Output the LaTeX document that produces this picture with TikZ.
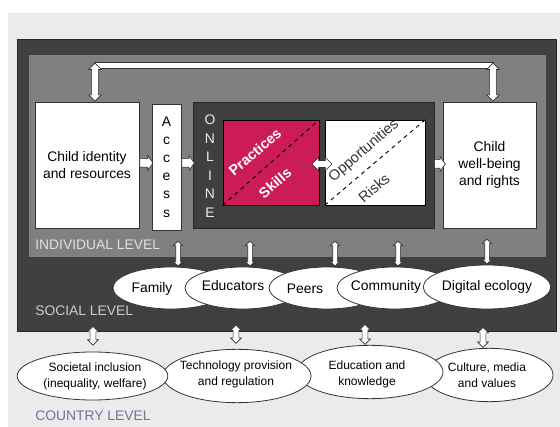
\documentclass[tikz,border=0pt]{standalone}
\usepackage{fontspec}
\setmainfont{Liberation Sans}
\usetikzlibrary{shapes.geometric,shapes.arrows,calc}
\definecolor{pagegrey}{HTML}{EBEBEB}
\definecolor{socialgrey}{HTML}{404040}
\definecolor{indivgrey}{HTML}{808080}
\definecolor{onlinegrey}{HTML}{3F3F3F}
\definecolor{practicered}{RGB}{204,27,89}
\definecolor{countrypurple}{HTML}{7D6B9E}
\definecolor{edgegrey}{HTML}{333333}

\tikzset{
  whitebox/.style={draw=edgegrey, fill=white, line width=0.5pt, align=center},
  socoval/.style={ellipse, draw=edgegrey, fill=white, line width=0.6pt, inner sep=0pt, minimum width=87pt, minimum height=31.5pt},
  ctroval/.style={ellipse, draw=edgegrey, fill=white, line width=0.6pt, inner sep=0pt, minimum height=40pt},
  levellabel/.style={anchor=west, inner sep=0pt},
  slanted/.style={inner sep=0pt, rotate=41},
  oneway/.style={single arrow, draw=edgegrey, fill=white, line width=0.5pt, inner xsep=0pt, inner ysep=3pt, minimum width=0pt, single arrow head extend=2.3pt, single arrow tip angle=110, anchor=west},
  twoway/.style={double arrow, draw=edgegrey, fill=white, line width=0.5pt, inner xsep=0pt, inner ysep=1.5pt, minimum width=0pt, double arrow head extend=1.6pt, double arrow tip angle=90, rotate=90, anchor=west},
}

\begin{document}
\begin{tikzpicture}[x=0.75pt, y=-0.75pt, font={\fontsize{10.4}{12.8}\selectfont}]
\useasboundingbox[fill=white] (0,0) rectangle (560,427);
\fill[pagegrey] (8,13) rectangle (560,427);

% levels
\node[draw=black!85, fill=socialgrey, minimum width=404.25pt, minimum height=219pt] (social) at (286.5,185) {};
\node[draw=black!75, fill=indivgrey, minimum width=388.5pt, minimum height=152.25pt] (indiv) at (287,155.5) {};
\node[levellabel, text=black!12] (indivlabel) at (35,245) {INDIVIDUAL LEVEL};
\node[levellabel, text=black!20] (sociallabel) at (35,311) {SOCIAL LEVEL};
\node[levellabel, text=countrypurple] (countrylabel) at (35,416) {COUNTRY LEVEL};

% individual level
\node[whitebox, minimum width=78pt, minimum height=94.5pt] (child) at (87,165) {Child identity\\and resources};
\node[whitebox, inner sep=0pt, minimum width=21.75pt, minimum height=94.5pt, font={\fontsize{10.4}{13.6}\selectfont}] (access) at (166.5,167) {A\\c\\c\\e\\s\\s};
\node[draw=black!85, fill=onlinegrey, minimum width=180.75pt, minimum height=94.5pt] (online) at (313.5,165) {};
\node[text=black!8, align=center, inner sep=0pt, font={\fontsize{10.4}{13.9}\selectfont}] (onlinetxt) at (210,166) {O\\N\\L\\I\\N\\E};
\node[draw=black, fill=practicered, minimum width=72pt, minimum height=63.75pt] (practice) at (271,162.5) {};
\node[draw=black, fill=white, minimum width=75pt, minimum height=63.75pt] (chance) at (375,162.5) {};
\draw[dashed, line width=0.7pt] (practice.south west) -- (practice.north east);
\draw[dashed, line width=0.7pt] (chance.south west) -- (chance.north east);
\node[slanted, text=white, font={\fontsize{10.8}{12}\selectfont\bfseries}] (practxt) at (255,152) {Practices};
\node[slanted, text=white, font={\fontsize{10.8}{12}\selectfont\bfseries}] (skilltxt) at (275,183) {Skills};
\node[slanted, text=edgegrey, font={\fontsize{11}{12}\selectfont}] (opptxt) at (364,151) {Opportunities};
\node[slanted, text=edgegrey, font={\fontsize{11}{12}\selectfont}] (risktxt) at (374,188) {Risks};
\node[whitebox, minimum width=69.75pt, minimum height=94.5pt] (wellbeing) at (489.5,165) {Child\\well-being\\and rights};

% arrows inside the individual level
\node[oneway, minimum height=10pt] (a1) at ($(child.east)+(0,-2)$) {};
\node[oneway, minimum height=9.5pt] (a2) at ($(access.east)+(0,-4)$) {};
\node[oneway, minimum height=8pt] (a3) at ($(online.east)+(0,-1)$) {};
\node[twoway, rotate=-90, inner ysep=2.4pt, double arrow head extend=2.4pt, minimum height=15pt, anchor=center] (a4) at ($(practice.east)!.5!(chance.west)+(0,1.5)$) {};

% feedback loop
\draw[draw=edgegrey, line width=0.6pt, double=white, double distance=3.6pt] ($(child.north)+(7,-36)$) -- ($(wellbeing.north)+(4,-36)$);
\node[twoway, inner ysep=2.3pt, double arrow head extend=2.2pt, minimum height=28.5pt] (loopleft) at ($(child.north)+(8,0)$) {};
\node[twoway, inner ysep=2.3pt, double arrow head extend=2.2pt, minimum height=28.5pt] (loopright) at ($(wellbeing.north)+(3.5,0)$) {};

% social level
\node[socoval] (family) at (171,288) {};
\node (famtxt) at (152,289) {Family};
\node[socoval] (educators) at (243,288) {};
\node (edutxt) at (233,286) {Educators};
\node[socoval] (peers) at (327,288) {};
\node (peertxt) at (305,289) {Peers};
\node[socoval] (community) at (395,288) {};
\node (commtxt) at (386,287) {Community};
\node[socoval, minimum width=91.5pt, minimum height=33pt] (digital) at (487,287) {Digital ecology};

\node[twoway, minimum height=18.75pt] (u1) at ($(family.north)+(7,0)$) {};
\node[twoway, minimum height=18.75pt] (u2) at ($(educators.north)+(7,0)$) {};
\node[twoway, minimum height=18.75pt] (u3) at ($(peers.north)+(8,0)$) {};
\node[twoway, minimum height=18.75pt] (u4) at ($(community.north)+(3,0)$) {};
\node[twoway, minimum height=18.75pt] (u5) at ($(digital.north)+(0,0)$) {};

% country level
\begin{scope}[font={\fontsize{9}{12}\selectfont}]
\node[ctroval, minimum width=96pt] (culture) at (489,375) {};
\node[align=center] (culttxt) at (487,375) {Culture, media\\and values};
\node[ctroval, minimum width=109.5pt] (education) at (370,372) {};
\node[align=center] (edutxt2) at (367,374) {Education and\\knowledge};
\node[ctroval, minimum width=111pt] (technology) at (237,376) {};
\node[align=center] (techtxt) at (236,374) {Technology provision\\and regulation};
\node[ctroval, minimum width=113pt, minimum height=36pt] (inclusion) at (92.5,376) {};
\node[align=center] (incltxt) at (95,376) {Societal inclusion\\(inequality, welfare)};
\end{scope}

\node[twoway, inner ysep=1.9pt, double arrow head extend=1.9pt, minimum height=14pt] (d1) at ($(inclusion.north)+(0.5,-6)$) {};
\node[twoway, inner ysep=1.9pt, double arrow head extend=1.9pt, minimum height=14pt] (d2) at ($(technology.north)+(-1,-5)$) {};
\node[twoway, inner ysep=1.9pt, double arrow head extend=1.9pt, minimum height=15pt] (d3) at ($(education.north)+(-5,0)$) {};
\node[twoway, inner ysep=1.9pt, double arrow head extend=1.9pt, minimum height=15pt] (d4) at ($(culture.north)+(-6,0)$) {};
\end{tikzpicture}
\end{document}
